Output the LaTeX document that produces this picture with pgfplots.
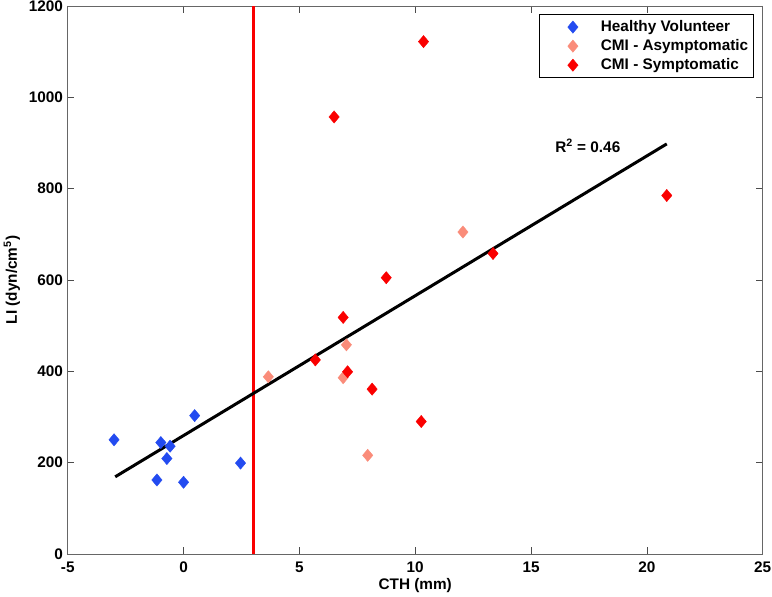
\documentclass[border=0pt]{standalone}
\usepackage{pgfplots}
\pgfplotsset{compat=1.18}
\usepackage{fontspec}
\setmainfont{Liberation Sans}
\definecolor{hvblue}{RGB}{35,75,240}
\definecolor{asym}{RGB}{250,140,122}
\definecolor{sym}{RGB}{250,0,0}
\begin{document}
\begin{tikzpicture}
\begin{axis}[
  scale only axis,
  width=521.25pt, height=411pt,
  xmin=-5, xmax=25, ymin=0, ymax=1200,
  xtick={-5,0,5,10,15,20,25},
  ytick={0,200,400,600,800,1000,1200},
  tick align=inside,
  major tick length=5pt,
  axis line style={draw=black!60, line width=0.6pt},
  every tick/.style={black!70, line width=0.5pt},
  tick label style={font=\fontsize{11.5}{13}\selectfont\bfseries},
  /pgf/number format/assume math mode=true,
  /pgf/number format/1000 sep={},
  xticklabel style={yshift=-2.5pt},
  xlabel={CTH (mm)},
  ylabel={LI (dyn/cm\textsuperscript{5})},
  label style={font=\fontsize{11.5}{13}\selectfont\bfseries},
  xlabel style={at={(axis description cs:0.5,-0.0570)}, anchor=center},
  ylabel style={at={(axis description cs:-0.0802,0.5)}, anchor=center},
  legend cell align=left,
  legend image code/.code={\path[draw=none] (0pt,0pt) -- (42pt,0pt); \draw[#1] plot coordinates {(22pt,0pt)};},
  legend style={at={(rel axis cs:1,1)}, anchor=north east, xshift=-6.5pt, yshift=-6.2pt,
    font=\fontsize{11.5}{13}\selectfont\bfseries, draw=black, line width=0.6pt,
    inner xsep=3pt, inner ysep=2.5pt, row sep=0.7pt,
    nodes={inner xsep=1pt, inner ysep=1.3pt, text height=8.5pt, text depth=2.5pt}},
]
\addplot[only marks, mark=diamond*, mark size=4.6pt, color=hvblue, mark options={line width=0.3pt, xscale=1.12}] coordinates {
  (-3.0,250) (-1.15,162) (-0.98,244) (-0.58,236) (-0.72,209) (0.0,157) (0.48,303) (2.46,199)
};
\addlegendentry{Healthy Volunteer}
\addplot[only marks, mark=diamond*, mark size=4.6pt, color=asym, mark options={line width=0.3pt, xscale=1.12}] coordinates {
  (3.66,388) (6.89,386) (7.03,458) (7.95,216) (12.06,705)
};
\addlegendentry{CMI - Asymptomatic}
\addplot[only marks, mark=diamond*, mark size=4.6pt, color=sym, mark options={line width=0.3pt, xscale=1.12}] coordinates {
  (5.69,425) (6.5,957) (6.89,518) (7.08,399) (8.14,361) (8.75,605) (10.26,290) (10.36,1122) (13.36,658) (20.86,785)
};
\addlegendentry{CMI - Symptomatic}
\addplot[forget plot, color=sym, line width=2.25pt] coordinates {(3,0) (3,1200)};
\addplot[forget plot, color=black, line width=2.25pt] coordinates {(-2.95,169) (20.86,898)};
\node[font=\fontsize{11.5}{13}\selectfont\bfseries] at (axis cs:17.45,893) {R\textsuperscript{2} = 0.46};
\end{axis}
\pgfresetboundingbox
\path ([shift={(-50.8pt,-32.25pt)}]current axis.south west) rectangle ([shift={(7pt,4.5pt)}]current axis.north east);
\end{tikzpicture}
\end{document}
